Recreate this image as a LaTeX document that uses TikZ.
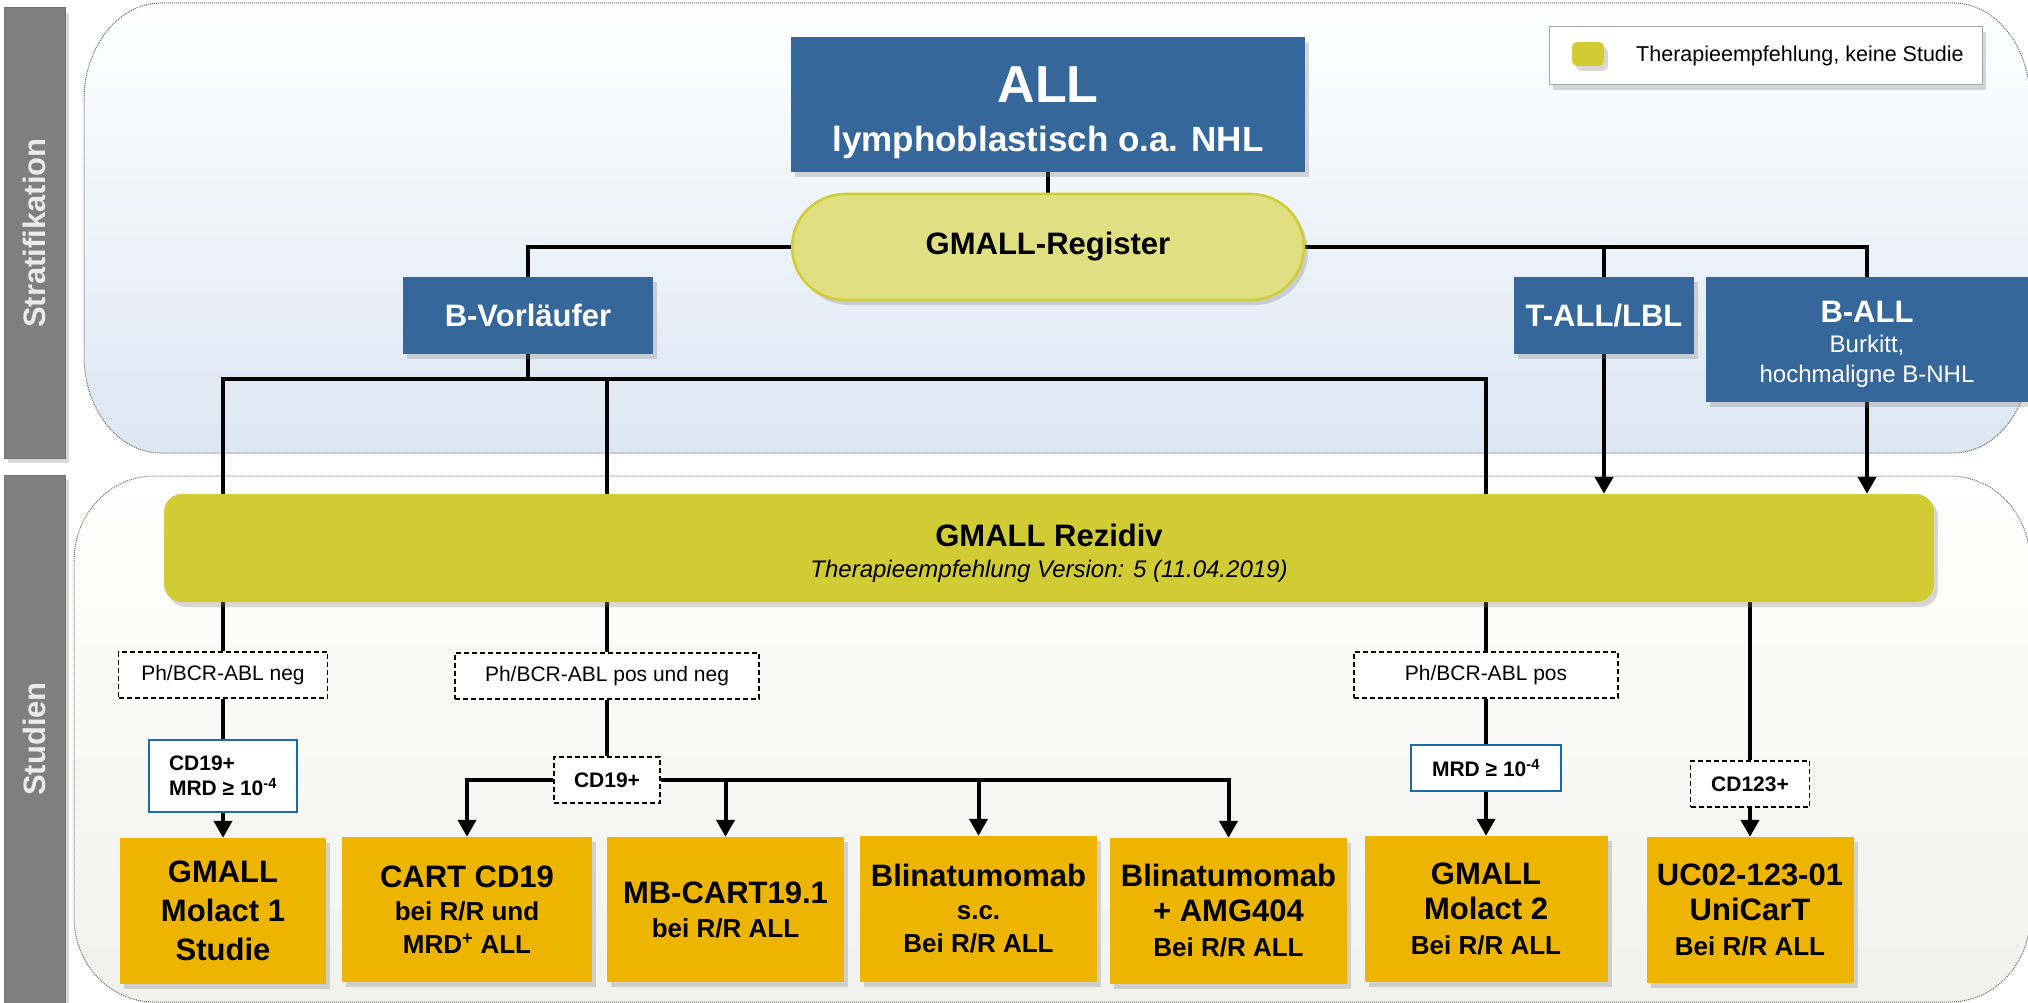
\documentclass[tikz,border=0pt]{standalone}
\usepackage{fontspec}
\setmainfont{Liberation Sans}
\usetikzlibrary{arrows.meta,shadows}

\definecolor{allblue}{RGB}{53,103,154}
\definecolor{studgold}{RGB}{237,181,0}
\definecolor{rezyellow}{RGB}{210,204,52}
\definecolor{regyellow}{RGB}{224,223,130}
\definecolor{bargray}{RGB}{127,127,127}
\definecolor{mrdblue}{RGB}{31,106,165}
\definecolor{panelblue}{RGB}{220,231,243}
\definecolor{panelgray}{RGB}{241,241,237}

\newcommand{\subline}[1]{{\fontsize{26}{26}\selectfont #1}}

\pgfdeclarelayer{back}
\pgfdeclarelayer{lines}
\pgfsetlayers{back,lines,main}

\tikzstyle{shadowed}=[drop shadow={shadow xshift=4pt,shadow yshift=-5pt,opacity=.3}]
\tikzstyle{panel}=[draw=black!60,densely dotted,line width=1pt]
\tikzstyle{group}=[rectangle,fill=allblue,text=white,align=center,inner sep=0pt,shadowed,font=\bfseries\fontsize{31}{34}\selectfont]
\tikzstyle{register}=[rectangle,rounded corners=53pt,fill=regyellow,draw=rezyellow,line width=2.5pt,shadowed,font=\bfseries\fontsize{31}{34}\selectfont]
\tikzstyle{rezbox}=[rectangle,rounded corners=18pt,fill=rezyellow,align=center,inner sep=0pt,shadowed,font=\bfseries\fontsize{31}{31}\selectfont]
\tikzstyle{study}=[rectangle,fill=studgold,align=center,inner sep=0pt,shadowed,font=\bfseries\fontsize{31}{35}\selectfont]
\tikzstyle{cond}=[rectangle,draw,fill=white,line width=1.5pt,dash pattern=on 5pt off 3pt,inner sep=0pt,font=\fontsize{21}{24}\selectfont]
\tikzstyle{mrd}=[rectangle,draw=mrdblue,fill=white,line width=2pt,inner sep=0pt,font=\bfseries\fontsize{21}{25}\selectfont]
\tikzstyle{sidebar}=[rectangle,fill=bargray,draw=black!55,line width=1pt,inner sep=0pt,shadowed]
\tikzstyle{sidetext}=[text=white!92!black,font=\bfseries\fontsize{31}{31}\selectfont]
\tikzstyle{link}=[line width=4pt]
\tikzstyle{arr}=[line width=4pt,-{Triangle[width=18pt,length=17pt]}]

\begin{document}
\begin{tikzpicture}[x=1pt,y=-1pt]
  \useasboundingbox (0,0) rectangle (2028,1003);

  % panels
  \begin{pgfonlayer}{back}
    \path[panel,top color=white,bottom color=panelblue]
      (84,100) arc[start angle=180,end angle=270,x radius=77,y radius=97]
      -- (1953,3) arc[start angle=270,end angle=360,x radius=77,y radius=97]
      -- (2030,356) arc[start angle=0,end angle=90,x radius=77,y radius=97]
      -- (161,453) arc[start angle=90,end angle=180,x radius=77,y radius=97] -- cycle;
    \path[panel,top color=white,bottom color=panelgray]
      (74,561) arc[start angle=180,end angle=270,x radius=80,y radius=85]
      -- (1950,476) arc[start angle=270,end angle=360,x radius=80,y radius=85]
      -- (2030,917) arc[start angle=0,end angle=90,x radius=80,y radius=85]
      -- (154,1002) arc[start angle=90,end angle=180,x radius=80,y radius=85] -- cycle;
  \end{pgfonlayer}

  \node[sidebar,minimum width=61pt,minimum height=450pt] (stratbar) at (34.5,233) {};
  \node[sidetext,rotate=90] (strattext) at (stratbar) {Stratifikation};
  \node[sidebar,minimum width=61pt,minimum height=540pt] (studbar) at (34.5,745) {};
  \node[sidetext,rotate=90] (studtext) at (34.5,739) {Studien};

  % legend
  \node[draw=black!35,fill=white,line width=1pt,shadowed,minimum width=433pt,minimum height=58pt] (legend) at (1765.5,56) {};
  \node[fill=rezyellow,rounded corners=5pt,minimum width=32pt,minimum height=24pt,shadowed] (legicon) at (1588,54) {};
  \node[anchor=west,inner sep=0pt,font=\fontsize{21.5}{24}\selectfont] (legtext) at (1636,56) {Therapieempfehlung, keine Studie};

  % stratification
  \node[group,minimum width=514pt,minimum height=135pt,font=\bfseries\fontsize{35}{49}\selectfont] (all) at (1048,104.5)
    {\rule{0pt}{52pt}{\fontsize{52}{52}\selectfont ALL}\\lymphoblastisch o.a. NHL};
  \node[register,minimum width=512pt,minimum height=106pt] (reg) at (1048,247) {GMALL-Register};
  \node[group,minimum width=250pt,minimum height=77pt] (bvor) at (528,315.5) {B-Vorläufer};
  \node[group,minimum width=180pt,minimum height=77pt] (tall) at (1604,315.5) {T-ALL/LBL};
  \node[group,minimum width=322pt,minimum height=125pt,font=\fontsize{24}{30}\selectfont] (ball) at (1867,339.5)
    {\rule{0pt}{31pt}{\bfseries\fontsize{31}{31}\selectfont B-ALL}\\Burkitt,\\hochmaligne B-NHL};

  % studies
  \node[rezbox,minimum width=1770pt,minimum height=108pt] (rez) at (1049,548)
    {\rule{0pt}{32pt}GMALL Rezidiv\\{\mdseries\itshape\fontsize{24}{24}\selectfont Therapieempfehlung Version: 5 (11.04.2019)}};

  \node[cond,minimum width=209pt,minimum height=46pt] (phneg) at (223,675) {Ph/BCR-ABL neg};
  \node[cond,minimum width=304pt,minimum height=46pt] (phpn) at (607,676) {Ph/BCR-ABL pos und neg};
  \node[cond,minimum width=264pt,minimum height=46pt] (phpos) at (1486,675) {Ph/BCR-ABL pos};

  \node[mrd,minimum width=148pt,minimum height=72pt,align=left] (mrda) at (223,776) {CD19+\\MRD ≥ 10\textsuperscript{-4}};
  \node[mrd,minimum width=150pt,minimum height=46pt] (mrdb) at (1486,768) {MRD ≥ 10\textsuperscript{-4}};
  \node[cond,minimum width=106pt,minimum height=46pt,font=\bfseries\fontsize{21}{24}\selectfont] (cdb) at (607,780) {CD19+};
  \node[cond,minimum width=119pt,minimum height=46pt,font=\bfseries\fontsize{21}{24}\selectfont] (cdc) at (1750,784) {CD123+};

  \node[study,minimum width=206pt,minimum height=146pt,font=\bfseries\fontsize{31}{39}\selectfont] (molact1) at (223,911) {GMALL\\Molact 1\\Studie};
  \node[study,minimum width=250pt,minimum height=145pt,font=\bfseries\fontsize{31}{33}\selectfont] (cart) at (467,909.5)
    {CART CD19\\\subline{bei R/R und}\\\subline{MRD\textsuperscript{+} ALL}};
  \node[study,minimum width=237pt,minimum height=145pt,font=\bfseries\fontsize{31}{34}\selectfont] (mbcart) at (725.5,909.5)
    {MB-CART19.1\\\subline{bei R/R ALL}};
  \node[study,minimum width=237pt,minimum height=146pt,font=\bfseries\fontsize{31}{33}\selectfont] (blinsc) at (978.5,909)
    {Blinatumomab\\\subline{s.c.}\\\subline{Bei R/R ALL}};
  \node[study,minimum width=237pt,minimum height=146pt] (blinamg) at (1228.5,911) {Blinatumomab\\+ AMG404\\\subline{Bei R/R ALL}};
  \node[study,minimum width=243pt,minimum height=146pt] (molact2) at (1486,909) {GMALL\\Molact 2\\\subline{Bei R/R ALL}};
  \node[study,minimum width=207pt,minimum height=146pt] (unicart) at (1750,910) {UC02-123-01\\UniCarT\\\subline{Bei R/R ALL}};

  % connectors
  \coordinate (hub) at (528,379);
  \begin{pgfonlayer}{lines}
    \draw[link] (all.south) -- (reg.north);
    \draw[link] (reg.west) -| (bvor.north);
    \draw[link] (reg.east) -| (ball.north);
    \draw[link] (tall.north) -- (tall.north |- reg.east);
    \draw[link] (bvor.south) -- (hub);
    \draw[link] (phneg.north) |- (hub) -| (phpos.north);
    \draw[link] (phpn.north) -- (phpn.north |- hub);
    \draw[arr] (tall.south) -- (tall.south |- rez.north);
    \draw[arr] (ball.south) -- (ball.south |- rez.north);
    \draw[link] (phneg.south) -- (mrda.north);
    \draw[arr] (mrda.south) -- (molact1.north);
    \draw[link] (phpn.south) -- (cdb.north);
    \draw[arr] (cdb.west) -| (cart.north);
    \draw[arr] (cdb.east) -| (blinamg.north);
    \draw[arr] (mbcart.north |- cdb.east) -- (mbcart.north);
    \draw[arr] (blinsc.north |- cdb.east) -- (blinsc.north);
    \draw[link] (phpos.south) -- (mrdb.north);
    \draw[arr] (mrdb.south) -- (molact2.north);
    \draw[link] (cdc.north |- rez.south) -- (cdc.north);
    \draw[arr] (cdc.south) -- (unicart.north);
  \end{pgfonlayer}
\end{tikzpicture}
\end{document}
